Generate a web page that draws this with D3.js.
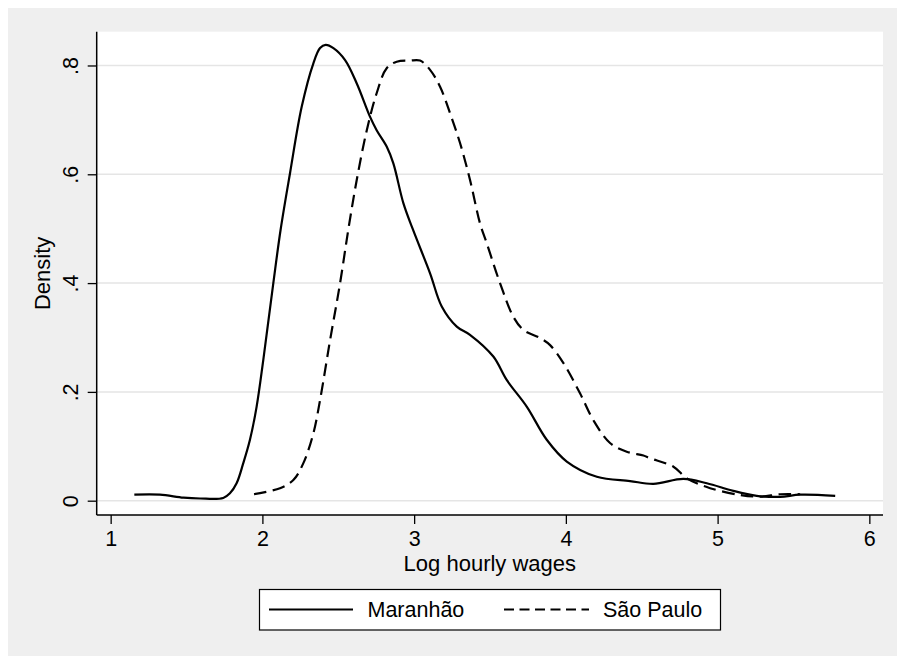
<!DOCTYPE html>
<html>
<head>
  <meta charset="utf-8">
  <title>Log hourly wages density</title>
  <script src="https://d3js.org/d3.v7.min.js"></script>
  <style>
    body { margin: 0; background: #fff; }
    text { font-family: "Liberation Sans", Arial, sans-serif; fill: #000; }
  </style>
</head>
<body>
  <script>
    // kernel density
    const maranhaoX = [1.156, 1.325, 1.48, 1.59, 1.742, 1.786, 1.83, 1.874, 1.918, 1.962, 2.006, 2.072, 2.12, 2.182, 2.259, 2.336, 2.38, 2.417, 2.468, 2.545, 2.622, 2.709, 2.753, 2.819, 2.863, 2.929, 2.99, 3.105, 3.182, 3.281, 3.368, 3.522, 3.61, 3.742, 3.874, 4.006, 4.204, 4.423, 4.577, 4.775, 4.929, 5.104, 5.258, 5.412, 5.544, 5.775];
    const maranhaoY = [0.011, 0.011, 0.0055, 0.004, 0.005, 0.0136, 0.032, 0.069, 0.112, 0.173, 0.259, 0.40, 0.498, 0.602, 0.724, 0.804, 0.832, 0.838, 0.832, 0.81, 0.767, 0.706, 0.681, 0.651, 0.62, 0.547, 0.50, 0.418, 0.357, 0.320, 0.305, 0.265, 0.222, 0.173, 0.112, 0.072, 0.044, 0.036, 0.031, 0.040, 0.032, 0.018, 0.009, 0.007, 0.011, 0.009];
    const saoPauloX = [1.945, 2.116, 2.204, 2.27, 2.336, 2.38, 2.446, 2.512, 2.566, 2.622, 2.688, 2.753, 2.819, 2.885, 2.973, 3.039, 3.105, 3.171, 3.237, 3.303, 3.368, 3.434, 3.479, 3.566, 3.654, 3.72, 3.83, 3.896, 3.984, 4.094, 4.181, 4.291, 4.401, 4.511, 4.555, 4.709, 4.797, 4.951, 5.148, 5.28, 5.412, 5.544];
    const saoPauloY = [0.012, 0.023, 0.038, 0.069, 0.124, 0.185, 0.295, 0.40, 0.498, 0.59, 0.681, 0.749, 0.795, 0.807, 0.809, 0.809, 0.792, 0.761, 0.712, 0.657, 0.59, 0.51, 0.473, 0.40, 0.338, 0.314, 0.299, 0.286, 0.253, 0.197, 0.148, 0.106, 0.090, 0.083, 0.078, 0.0625, 0.041, 0.023, 0.0105, 0.0074, 0.0118, 0.0118];

    const xTicks = [1, 2, 3, 4, 5, 6];
    const yTicks = [0, 0.2, 0.4, 0.6, 0.8];
    const yTickLabels = ['0', '.2', '.4', '.6', '.8'];
    const seriesNames = ['Maranhão', 'São Paulo'];

    const width = 897, height = 656;
    const plot = { left: 96.7, right: 883, top: 31.7, bottom: 515 };

    const svg = d3.select('body').append('svg')
      .attr('width', width)
      .attr('height', height);

    // stata-ish grey backdrop
    svg.append('rect').attr('x', 8).attr('y', 8)
      .attr('width', width - 8).attr('height', height - 8)
      .attr('fill', '#efefef');
    svg.append('rect').attr('x', plot.left).attr('y', plot.top)
      .attr('width', plot.right - plot.left).attr('height', plot.bottom - plot.top)
      .attr('fill', '#fff');

    const x = d3.scaleLinear()
      .domain([0.908, 6.09])
      .range([plot.left, plot.right]);
    const y = d3.scaleLinear()
      .domain([-0.0263, 0.8621])
      .range([plot.bottom, plot.top]);

    // grid
    svg.append('g').selectAll('line')
      .data(yTicks)
      .join('line')
      .attr('x1', plot.left).attr('x2', plot.right)
      .attr('y1', d => y(d)).attr('y2', d => y(d))
      .attr('stroke', '#e5e5e5').attr('stroke-width', 1.5);

    const yAxis = svg.append('g')
      .attr('transform', `translate(${plot.left},0)`)
      .call(d3.axisLeft(y).tickValues(yTicks).tickSize(9).tickPadding(0)
        .tickFormat((d, i) => yTickLabels[i]));
    yAxis.select('.domain').attr('d', `M0,${plot.top}V${plot.bottom}`).attr('stroke-width', 1.5);
    yAxis.selectAll('.tick line').attr('stroke-width', 1.3);
    yAxis.selectAll('.tick text')
      .attr('x', null).attr('dy', null)
      .attr('text-anchor', 'middle')
      .attr('transform', 'translate(-19,0) rotate(-90)')
      .style('font-size', '21.5px');

    const xAxis = svg.append('g')
      .attr('transform', `translate(0,${plot.bottom})`)
      .call(d3.axisBottom(x).tickValues(xTicks).tickSize(9).tickFormat(d3.format('d')));
    xAxis.select('.domain').attr('d', `M${plot.left},0H${plot.right}`).attr('stroke-width', 1.5);
    xAxis.selectAll('.tick line').attr('stroke-width', 1.3);
    xAxis.selectAll('.tick text')
      .attr('y', 30.5).attr('dy', null)
      .style('font-size', '21.5px');

    svg.selectAll('.domain, .tick line').attr('stroke', '#000');

    // axis titles
    svg.append('text')
      .attr('x', (plot.left + plot.right) / 2).attr('y', 570.5)
      .attr('text-anchor', 'middle')
      .style('font-size', '22px')
      .text('Log hourly wages');
    svg.append('text')
      .attr('transform', `translate(50,${(plot.top + plot.bottom) / 2}) rotate(-90)`)
      .attr('text-anchor', 'middle')
      .style('font-size', '22px')
      .text('Density');

    const line = d3.line()
      .x(d => x(d[0]))
      .y(d => y(d[1]))
      .curve(d3.curveCatmullRom.alpha(0.5));

    const maranhao = d3.zip(maranhaoX, maranhaoY);
    const saoPaulo = d3.zip(saoPauloX, saoPauloY);

    svg.append('path').datum(saoPaulo)
      .attr('d', line)
      .attr('fill', 'none').attr('stroke', '#000')
      .attr('stroke-width', 2.2).attr('stroke-dasharray', '12.5,6.5');
    svg.append('path').datum(maranhao)
      .attr('d', line)
      .attr('fill', 'none').attr('stroke', '#000')
      .attr('stroke-width', 2.2);

    // legend
    const leg = svg.append('g');
    leg.append('rect').attr('x', 259.5).attr('y', 589.5)
      .attr('width', 461).attr('height', 40.5)
      .attr('fill', '#fff').attr('stroke', '#000').attr('stroke-width', 1.2);
    leg.append('line').attr('x1', 269).attr('x2', 353).attr('y1', 609.5).attr('y2', 609.5)
      .attr('stroke', '#000').attr('stroke-width', 2.2);
    leg.append('text').attr('x', 367.5).attr('y', 617)
      .style('font-size', '21.5px').text(seriesNames[0]);
    leg.append('line').attr('x1', 504).attr('x2', 589).attr('y1', 609.5).attr('y2', 609.5)
      .attr('stroke', '#000').attr('stroke-width', 2.2).attr('stroke-dasharray', '10,5.5');
    leg.append('text').attr('x', 603).attr('y', 617)
      .style('font-size', '21.5px').text(seriesNames[1]);
  </script>
</body>
</html>
